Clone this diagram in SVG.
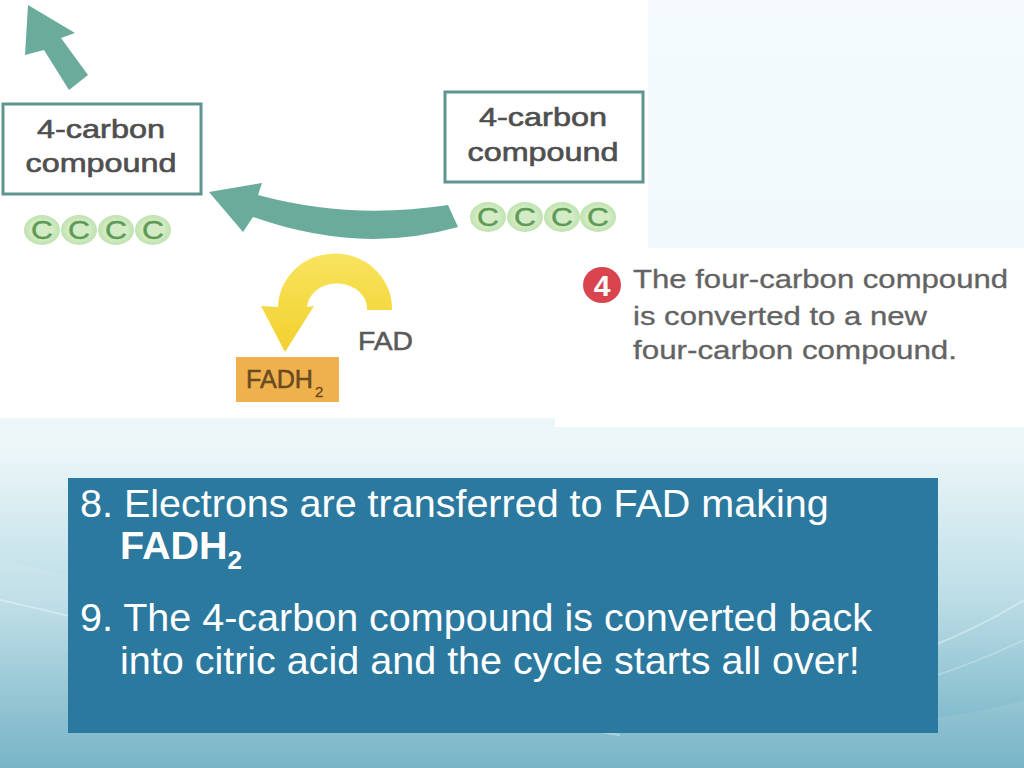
<svg xmlns="http://www.w3.org/2000/svg" width="1024" height="768" viewBox="0 0 1024 768">
  <defs>
    <linearGradient id="bg" x1="0" y1="0" x2="0" y2="1">
      <stop offset="0" stop-color="#f5fbfc"/>
      <stop offset="0.58" stop-color="#edf7f9"/>
      <stop offset="0.78" stop-color="#bcdde6"/>
      <stop offset="1" stop-color="#6caec2"/>
    </linearGradient>
    <linearGradient id="yel" x1="0" y1="0" x2="0" y2="1">
      <stop offset="0" stop-color="#f8e45e"/>
      <stop offset="1" stop-color="#f2d02e"/>
    </linearGradient>
    <radialGradient id="cg">
      <stop offset="0.6" stop-color="#d3ecc6"/>
      <stop offset="1" stop-color="#bfe2ae"/>
    </radialGradient>
    <style>
      .box { fill: #ffffff; stroke: #5f948f; stroke-width: 3; }
      .lbl { font-family: "Liberation Sans", Arial, sans-serif; font-size: 25px; fill: #4f4f4f; stroke: #4f4f4f; stroke-width: 0.6; }
      .c-circ { fill: url(#cg); }
      .c-txt { font-family: "Liberation Sans", Arial, sans-serif; font-size: 25px; fill: #5e9a55; stroke: #5e9a55; stroke-width: 0.4; text-anchor: middle; }
      .cap { font-family: "Liberation Sans", Arial, sans-serif; font-size: 25px; fill: #636363; stroke: #636363; stroke-width: 0.3; }
      .teal { fill: #6aab9c; }
      .panel-txt { font-family: "Liberation Sans", Arial, sans-serif; font-size: 39.5px; fill: #ffffff; }
    </style>
  </defs>

  <!-- background -->
  <rect x="0" y="0" width="1024" height="768" fill="url(#bg)"/>
  <path d="M0,560 C200,600 420,700 700,720 C850,730 960,720 1024,700 L1024,768 L0,768 Z" fill="#ffffff" opacity="0.08"/>
  <path d="M0,600 C180,640 380,700 620,735" fill="none" stroke="#ffffff" stroke-width="2" opacity="0.35"/>
  <path d="M1024,600 C960,640 900,660 830,675" fill="none" stroke="#ffffff" stroke-width="2" opacity="0.35"/>
  <path d="M1024,640 C940,680 860,700 760,720" fill="none" stroke="#ffffff" stroke-width="1.5" opacity="0.25"/>

  <!-- white picture areas -->
  <rect x="0" y="0" width="648" height="418" fill="#ffffff"/>
  <rect x="555" y="248" width="469" height="179" fill="#ffffff"/>

  <!-- connectors -->
  <g id="connectors">
    <polygon class="teal" points="28,5 75,33 61,38 88,75 69,90 44,50 25,55"/>
    <path class="teal" d="M448,205 Q350,220 258,195 L262,183 L209,192 L243,232 L253,217 Q360,255 458,227 Z"/>
    <path fill="url(#yel)" d="M392,310 A57 55 0 0 0 278,307 L261,306 L285,352 L314,306 L307,307 A30 25 0 0 1 367,310 Z"/>
  </g>

  <!-- left 4-carbon compound -->
  <g id="left-compound">
    <rect class="box" x="3" y="104" width="198" height="90"/>
    <text class="lbl" x="101" y="138" text-anchor="middle" textLength="128" lengthAdjust="spacingAndGlyphs">4-carbon</text>
    <text class="lbl" x="101" y="172" text-anchor="middle" textLength="151" lengthAdjust="spacingAndGlyphs">compound</text>
    <ellipse class="c-circ" cx="42" cy="230" rx="18" ry="15"/>
    <ellipse class="c-circ" cx="79" cy="230" rx="18" ry="15"/>
    <ellipse class="c-circ" cx="116" cy="230" rx="18" ry="15"/>
    <ellipse class="c-circ" cx="153" cy="230" rx="18" ry="15"/>
    <text class="c-txt" x="42" y="239" textLength="22" lengthAdjust="spacingAndGlyphs">C</text>
    <text class="c-txt" x="79" y="239" textLength="22" lengthAdjust="spacingAndGlyphs">C</text>
    <text class="c-txt" x="116" y="239" textLength="22" lengthAdjust="spacingAndGlyphs">C</text>
    <text class="c-txt" x="153" y="239" textLength="22" lengthAdjust="spacingAndGlyphs">C</text>
  </g>

  <!-- right 4-carbon compound -->
  <g id="right-compound">
    <rect class="box" x="445" y="92" width="198" height="90"/>
    <text class="lbl" x="543" y="126" text-anchor="middle" textLength="128" lengthAdjust="spacingAndGlyphs">4-carbon</text>
    <text class="lbl" x="543" y="161" text-anchor="middle" textLength="151" lengthAdjust="spacingAndGlyphs">compound</text>
    <ellipse class="c-circ" cx="488" cy="217" rx="18" ry="15"/>
    <ellipse class="c-circ" cx="525" cy="217" rx="18" ry="15"/>
    <ellipse class="c-circ" cx="562" cy="217" rx="18" ry="15"/>
    <ellipse class="c-circ" cx="598" cy="217" rx="18" ry="15"/>
    <text class="c-txt" x="488" y="226" textLength="22" lengthAdjust="spacingAndGlyphs">C</text>
    <text class="c-txt" x="525" y="226" textLength="22" lengthAdjust="spacingAndGlyphs">C</text>
    <text class="c-txt" x="562" y="226" textLength="22" lengthAdjust="spacingAndGlyphs">C</text>
    <text class="c-txt" x="598" y="226" textLength="22" lengthAdjust="spacingAndGlyphs">C</text>
  </g>

  <!-- FAD -->
  <g id="fad">
    <text x="358" y="350" font-family="Liberation Sans, Arial, sans-serif" font-size="25" fill="#595959" stroke="#595959" stroke-width="0.5" textLength="55" lengthAdjust="spacingAndGlyphs">FAD</text>
  </g>

  <!-- FADH2 -->
  <g id="fadh2">
    <rect x="236" y="357" width="103" height="45" fill="#efb14d"/>
    <text x="246" y="388" font-family="Liberation Sans, Arial, sans-serif" font-size="25" fill="#6a4a22" stroke="#6a4a22" stroke-width="0.5" textLength="67" lengthAdjust="spacingAndGlyphs">FADH</text>
    <text x="315" y="397" font-family="Liberation Sans, Arial, sans-serif" font-size="15" fill="#6a4a22" stroke="#6a4a22" stroke-width="0.3">2</text>
  </g>

  <!-- step 4 caption -->
  <g id="step4">
    <ellipse cx="602" cy="285" rx="19" ry="18" fill="#d9444f"/>
    <text x="602" y="296" text-anchor="middle" font-family="Liberation Sans, Arial, sans-serif" font-weight="bold" font-size="30" fill="#ffffff">4</text>
    <text class="cap" x="633" y="288" textLength="375" lengthAdjust="spacingAndGlyphs">The four-carbon compound</text>
    <text class="cap" x="633" y="325" textLength="294" lengthAdjust="spacingAndGlyphs">is converted to a new</text>
    <text class="cap" x="633" y="359" textLength="324" lengthAdjust="spacingAndGlyphs">four-carbon compound.</text>
  </g>

  <!-- text panel -->
  <g id="panel">
    <rect x="68" y="478" width="870" height="255" fill="#2c79a0"/>
    <text class="panel-txt" x="80" y="517">8. Electrons are transferred to FAD making</text>
    <text class="panel-txt" x="120" y="559" font-weight="bold">FADH<tspan font-size="26" dy="10">2</tspan></text>
    <text class="panel-txt" x="80" y="631">9. The 4-carbon compound is converted back</text>
    <text class="panel-txt" x="120" y="674">into citric acid and the cycle starts all over!</text>
  </g>
</svg>
